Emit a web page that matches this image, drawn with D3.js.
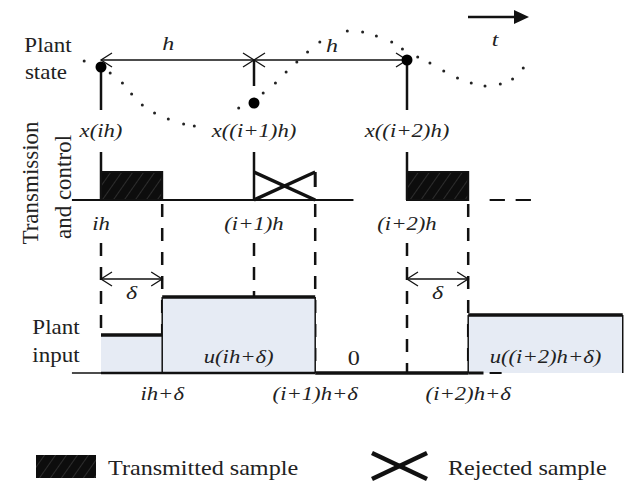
<!DOCTYPE html>
<html>
<head>
<meta charset="utf-8">
<script src="https://cdn.jsdelivr.net/npm/d3@7"></script>
<style>
  body { margin: 0; background: #fff; }
  svg { display: block; }
  text { font-family: "Liberation Serif", "Times New Roman", serif; fill: #222; }
</style>
</head>
<body>
<div id="chart"></div>
<script>
// time is measured in units of h; sample instants ih, (i+1)h, (i+2)h
const sampleTimes = [0, 1, 2];
const sampleStatus = ["transmitted", "rejected", "transmitted"];
const sampleLabels = ["ih", "(i+1)h", "(i+2)h"];
const stateLabels = ["x(ih)", "x((i+1)h)", "x((i+2)h)"];
const stateSamples = [63, 27, 70];
const delta = 0.4;
const actLabels = ["ih+δ", "(i+1)h+δ", "(i+2)h+δ"];

// dotted plant trajectory, [t, state]
const stateCurve = [
    [-0.11, 69], [0.06, 57], [0.14, 47], [0.20, 36], [0.27, 25], [0.35, 17],
    [0.44, 11], [0.54, 6], [0.61, 4], [0.90, 22], [1.06, 37], [1.14, 47],
    [1.21, 58], [1.28, 68], [1.35, 78], [1.43, 88], [1.61, 99], [1.71, 98],
    [1.80, 94], [1.90, 88], [1.97, 81], [2.07, 73], [2.15, 67], [2.24, 59],
    [2.33, 52], [2.42, 47], [2.51, 44], [2.61, 46], [2.69, 51], [2.76, 62]
];

// plant input held between actuation instants
const inputStart = [0, 0.4, 1.4, 2.4];
const inputEnd = [0.4, 1.4, 2.4, 3.41];
const inputValues = [38, 76, 0, 58];
const inputLabels = ["", "u(ih+δ)", "0", "u((i+2)h+δ)"];

const legendLabels = ["Transmitted sample", "Rejected sample"];

const width = 629, height = 487;
const ink = "#111";

const x = d3.scaleLinear().domain([0, 2]).range([101, 407]);
const yState = d3.scaleLinear().domain([0, 100]).range([130, 30]);
const yInput = d3.scaleLinear().domain([0, 100]).range([373, 273]);

const hLineY = 60;        // sampling period arrow
const baseT = 200;        // transmission baseline
const blockH = 28;

const svg = d3.select("#chart").append("svg")
    .attr("width", width)
    .attr("height", height);

svg.append("rect").attr("width", "100%").attr("height", "100%").style("fill", "#fff");

const defs = svg.append("defs");
const hatch = defs.append("pattern")
    .attr("id", "hatch")
    .attr("patternUnits", "userSpaceOnUse")
    .attr("width", 9).attr("height", 9)
    .attr("patternTransform", "rotate(35)");
hatch.append("rect").attr("width", 9).attr("height", 9).attr("fill", "#0d0d0d");
hatch.append("line").attr("x1", 0).attr("y1", 0).attr("x2", 0).attr("y2", 9)
    .attr("stroke", "#3a3a3a").attr("stroke-width", 1.4);

function line(g, x1, y1, x2, y2, w, dash) {
    const l = g.append("line")
        .attr("x1", x1).attr("y1", y1).attr("x2", x2).attr("y2", y2)
        .attr("stroke", ink).attr("stroke-width", w || 1.5);
    if (dash) l.attr("stroke-dasharray", dash);
    return l;
}

// the source figure's lettering is a little wider than Liberation Serif
function label(g, tx, ty, str, size, italic, anchor) {
    const sx = italic ? 1.26 : 1.15;
    return g.append("text")
        .attr("transform", `translate(${tx},${ty}) scale(${sx},1)`)
        .attr("text-anchor", anchor || "middle")
        .style("font-size", size + "px")
        .style("font-style", italic ? "italic" : "normal")
        .text(str);
}

function openHead(g, px, py, dir) {
    // dir: +1 points right, -1 points left
    g.append("path")
        .attr("d", `M${px - dir * 11},${py - 7}L${px},${py}L${px - dir * 11},${py + 7}`)
        .attr("fill", "none").attr("stroke", ink).attr("stroke-width", 1.3);
}

// ---- left row titles
const titles = svg.append("g");
label(titles, 48, 52, "Plant", 20, false);
label(titles, 46, 79, "state", 20, false);
label(titles, 56, 334, "Plant", 20, false);
label(titles, 56, 362, "input", 20, false);
titles.append("text")
    .attr("transform", "translate(38,183) rotate(-90)")
    .attr("text-anchor", "middle").style("font-size", "23px")
    .text("Transmission");
titles.append("text")
    .attr("transform", "translate(71,187) rotate(-90)")
    .attr("text-anchor", "middle").style("font-size", "23px")
    .text("and control");

// ---- time arrow
const tArrow = svg.append("g");
line(tArrow, 468, 17, 516, 17, 2.5);
tArrow.append("path").attr("d", "M514,10L529,17L514,24Z").attr("fill", ink);
label(tArrow, 495, 46, "t", 19, true);

// ---- plant state
const state = svg.append("g");

state.selectAll("circle.traj")
    .data(stateCurve)
    .enter().append("circle")
    .attr("class", "traj")
    .attr("cx", d => x(d[0]))
    .attr("cy", d => yState(d[1]))
    .attr("r", 1.5)
    .attr("fill", "#222");

line(state, x(sampleTimes[0]), hLineY, x(sampleTimes[2]), hLineY, 1.6);
openHead(state, x(sampleTimes[0]), hLineY, -1);
openHead(state, x(sampleTimes[1]), hLineY, 1);
openHead(state, x(sampleTimes[1]), hLineY, -1);
openHead(state, x(sampleTimes[2]), hLineY, 1);
label(state, x(0.44), 50, "h", 19, true);
label(state, x(1.51), 52, "h", 19, true);

sampleTimes.forEach((t, i) => {
    if (sampleStatus[i] === "rejected") {
        line(state, x(t), hLineY, x(t), 86, 2.5);
    } else {
        line(state, x(t), yState(stateSamples[i]), x(t), 110, 2.5);
    }
    line(state, x(t), 152, x(t), baseT, 2.5);
});

state.selectAll("circle.sample")
    .data(sampleTimes)
    .enter().append("circle")
    .attr("class", "sample")
    .attr("cx", d => x(d))
    .attr("cy", (d, i) => yState(stateSamples[i]))
    .attr("r", 5.5)
    .attr("fill", "#000");

sampleTimes.forEach((t, i) => label(state, x(t), 137, stateLabels[i], 18, true));

// ---- transmission and control
const trans = svg.append("g");
line(trans, x(-0.19), baseT, x(1.65), baseT, 2);
line(trans, x(2.54), baseT, x(2.64), baseT, 2);
line(trans, x(2.71), baseT, x(2.81), baseT, 2);

sampleTimes.forEach((t, i) => {
    if (sampleStatus[i] === "transmitted") {
        trans.append("rect")
            .attr("x", x(t)).attr("y", baseT - blockH)
            .attr("width", x(t + delta) - x(t)).attr("height", blockH)
            .attr("fill", "url(#hatch)")
            .attr("stroke", ink).attr("stroke-width", 2);
    } else {
        line(trans, x(t), baseT, x(t + delta), baseT - blockH, 3.5);
        line(trans, x(t), baseT - blockH, x(t + delta), baseT, 3.5);
        line(trans, x(t + delta), baseT - blockH, x(t + delta), baseT - 13, 3);
    }
    label(trans, x(t), 230, sampleLabels[i], 18, true);
});

// dashed guide lines
function inputAt(t) {
    const k = inputStart.findIndex((s, j) => t >= s && t < inputEnd[j]);
    return inputValues[k];
}
sampleTimes.forEach(t => {
    line(trans, x(t), 243, x(t), yInput(inputAt(t)), 2.5, "13,11");
});
sampleTimes.forEach(t => {
    line(trans, x(t + delta), 204, x(t + delta), yInput(0), 2.5, "13,11");
});

// delta spans
sampleTimes.forEach((t, i) => {
    if (sampleStatus[i] !== "transmitted") return;
    const a = x(t), b = x(t + delta);
    line(trans, a, 279, b, 279, 1.3);
    openHead(trans, a, 279, -1);
    openHead(trans, b, 279, 1);
    label(trans, (a + b) / 2, 299, "δ", 19, true);
});

// ---- plant input
const input = svg.append("g");
input.selectAll("rect")
    .data(inputValues)
    .enter().append("rect")
    .attr("x", (d, i) => x(inputStart[i]))
    .attr("y", d => yInput(d))
    .attr("width", (d, i) => x(inputEnd[i]) - x(inputStart[i]))
    .attr("height", d => yInput(0) - yInput(d))
    .attr("fill", "#e6ebf4");

line(input, x(-0.19), yInput(0), x(inputStart[0]), yInput(0), 1.5);
line(input, x(inputStart[0]), yInput(0), x(inputEnd[1]), yInput(0), 2.5);

inputValues.forEach((v, i) => {
    const a = x(inputStart[i]), b = x(inputEnd[i]);
    line(input, a, yInput(v), b, yInput(v), 3.5);
    if (i > 0) line(input, a, yInput(Math.max(v, inputValues[i - 1])), a, yInput(0), 1.5);
    if (inputLabels[i]) {
        if (v === 0) label(input, (a + b) / 2 - 38, 365, inputLabels[i], 21, false);
        else label(input, (a + b) / 2, 363, inputLabels[i], 18, true);
    }
});
line(input, x(inputEnd[3]), yInput(inputValues[3]), x(inputEnd[3]), yInput(0), 1.5);
line(input, x(inputStart[3]), yInput(0), x(inputStart[3] + 0.1), yInput(0), 3, null);
line(input, x(inputStart[3] + 0.14), yInput(0), x(inputStart[3] + 0.26), yInput(0), 2, "12,8");

sampleTimes.forEach((t, i) => label(input, x(t + delta), 400, actLabels[i], 18, true));

// ---- legend
const legend = svg.append("g");
legend.append("rect")
    .attr("x", 36).attr("y", 455).attr("width", 60).attr("height", 23)
    .attr("fill", "url(#hatch)");
label(legend, 108, 475, legendLabels[0], 21, false, "start");
line(legend, 372, 453, 427, 479, 4.5);
line(legend, 372, 479, 427, 453, 4.5);
label(legend, 448, 475, legendLabels[1], 21, false, "start");
</script>
</body>
</html>
